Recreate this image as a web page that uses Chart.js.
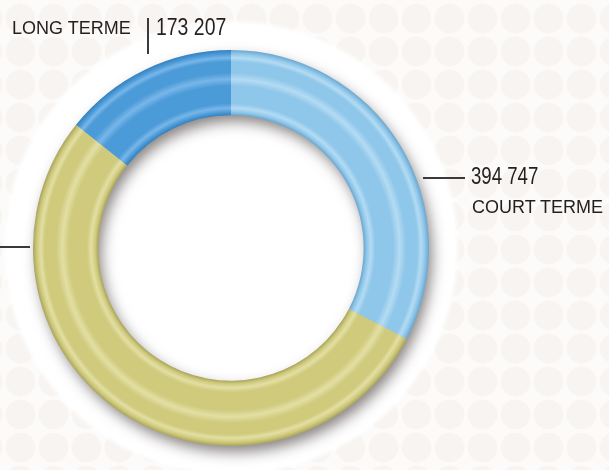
<!DOCTYPE html>
<html>
<head>
<meta charset="utf-8">
<script src="https://cdn.jsdelivr.net/npm/chart.js@4/dist/chart.umd.min.js"></script>
<style>
  html, body { margin: 0; padding: 0; }
  body {
    width: 609px; height: 470px; overflow: hidden; position: relative;
    background-color: #fcfbfa;
    background-image: radial-gradient(circle, #f7f4f1 14px, rgba(247,244,241,0) 15.5px);
    background-size: 33px 33px;
    background-position: 4px 2px;
  }
  #wrap { position: absolute; left: 0; top: 0; width: 609px; height: 470px; }
  .lbl { position: absolute; color: #231f20; line-height: 1; white-space: nowrap; }
  .name { font-family: 'Liberation Sans', Arial, sans-serif; font-size: 18px; }
  .num { font-family: 'Liberation Sans', Arial, sans-serif; transform: scaleX(0.81); transform-origin: 0 0; }
  .rule { position: absolute; background: #3a3a3a; }
</style>
</head>
<body>
<div id="wrap"><canvas id="donut" width="609" height="470"></canvas></div>

<div class="lbl name" style="left:12px; top:19px;">LONG TERME</div>
<div class="rule" style="left:147px; top:18px; width:1.5px; height:36px;"></div>
<div class="lbl num" style="left:156px; top:15px; font-size:24px;">173 207</div>

<div class="rule" style="left:423px; top:177px; width:42px; height:1.5px;"></div>
<div class="lbl num" style="left:471px; top:165px; font-size:23px;">394 747</div>
<div class="lbl name" style="left:472px; top:198px;">COURT TERME</div>

<div class="rule" style="left:0px; top:246px; width:30px; height:1.5px;"></div>

<script>
// data (clockwise from 12 o'clock)
const labels = ['COURT TERME', '', 'LONG TERME'];
const values = [394747, 643000, 173207];
const baseColors = ['#8fc7ea', '#cfca7c', '#4b9bd9'];
const darkColors = ['#6aa6cf', '#a9a55c', '#3580bd'];
const lightColors = ['#b4dbf3', '#e3dfa4', '#79b6e8'];
const cutoutPct = 67;

// white halo behind the ring + soft drop shadow of the tube
const ringDecor = {
    id: 'ringDecor',
    beforeDatasetsDraw(chart) {
        const arc = chart.getDatasetMeta(0).data[0];
        if (!arc) return;
        const ctx = chart.ctx;
        const cx = arc.x, cy = arc.y;
        const ro = arc.outerRadius, ri = arc.innerRadius;

        // halo
        ctx.save();
        let halo = ctx.createRadialGradient(cx, cy, ro, cx, cy, ro + 32);
        halo.addColorStop(0, 'rgba(255,255,255,1)');
        halo.addColorStop(0.8, 'rgba(255,255,255,1)');
        halo.addColorStop(1, 'rgba(255,255,255,0)');
        ctx.fillStyle = halo;
        ctx.beginPath();
        ctx.arc(cx, cy, ro + 32, 0, Math.PI * 2);
        ctx.fill();
        ctx.restore();

        // shadow ring
        ctx.save();
        ctx.shadowColor = 'rgba(40,30,30,0.55)';
        ctx.shadowBlur = 14;
        ctx.shadowOffsetX = 4;
        ctx.shadowOffsetY = 7;
        ctx.fillStyle = '#bbbbbb';
        ctx.beginPath();
        ctx.arc(cx, cy, ro - 1, 0, Math.PI * 2);
        ctx.arc(cx, cy, ri + 1, 0, Math.PI * 2, true);
        ctx.fill();
        ctx.restore();
    }
};

// tube look: radial bands from inner to outer edge
function tubeGradient(context) {
    const chart = context.chart;
    const i = context.dataIndex;
    const area = chart.chartArea;
    if (!area) return baseColors[i];
    const cx = (area.left + area.right) / 2;
    const cy = (area.top + area.bottom) / 2;
    const ro = Math.min(area.right - area.left, area.bottom - area.top) / 2;
    const ri = ro * cutoutPct / 100;
    const g = chart.ctx.createRadialGradient(cx, cy, ri, cx, cy, ro);
    g.addColorStop(0, darkColors[i]);
    g.addColorStop(0.05, baseColors[i]);
    g.addColorStop(0.11, lightColors[i]);
    g.addColorStop(0.18, baseColors[i]);
    g.addColorStop(0.45, baseColors[i]);
    g.addColorStop(0.55, lightColors[i]);
    g.addColorStop(0.65, baseColors[i]);
    g.addColorStop(0.82, baseColors[i]);
    g.addColorStop(0.88, lightColors[i]);
    g.addColorStop(0.94, baseColors[i]);
    g.addColorStop(1, darkColors[i]);
    return g;
}

new Chart(document.getElementById('donut'), {
    type: 'doughnut',
    data: {
        labels: labels,
        datasets: [{
            data: values,
            backgroundColor: tubeGradient,
            borderWidth: 0
        }]
    },
    options: {
        responsive: false,
        animation: false,
        cutout: cutoutPct + '%',
        layout: { padding: { left: 33, right: 180, top: 50, bottom: 24 } },
        plugins: {
            legend: { display: false },
            tooltip: { enabled: false }
        }
    },
    plugins: [ringDecor]
});
</script>
</body>
</html>
